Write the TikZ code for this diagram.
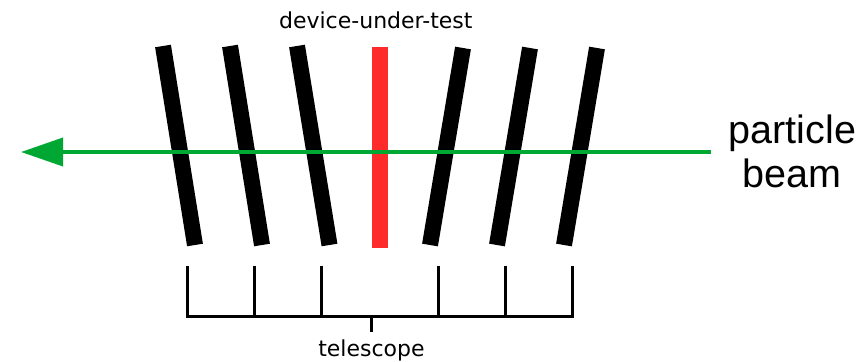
\documentclass[tikz,border=0pt]{standalone}
\usepackage{fontspec}
\setmainfont{DejaVu Sans}
\newfontfamily\pbfamily{Liberation Sans}
\usetikzlibrary{arrows.meta}
\definecolor{beamgreen}{RGB}{0,168,51}
\definecolor{dutred}{RGB}{255,42,42}
\tikzset{
  plate/.style={line width=16pt, line cap=butt, black},
  dutplate/.style={line width=16.5pt, line cap=butt, dutred},
  beam/.style={line width=3.7pt, beamgreen, -{Triangle[length=42pt,width=28pt]}},
  bracket/.style={line width=3pt, black, line join=miter},
  smalllabel/.style={font=\fontsize{22}{26}\selectfont, inner sep=0pt, anchor=base},
  biglabel/.style={font=\pbfamily\fontsize{39.5}{44}\selectfont, inner sep=0pt, anchor=base}
}
\begin{document}
\begin{tikzpicture}[x=1pt,y=-1pt]
\useasboundingbox (0,0) rectangle (861,361);
% telescope planes
\foreach \t/\b [count=\i] in {163/195,230/262,297/329.5}{
  \coordinate (lt\i) at (\t,46);
  \coordinate (lb\i) at (\b,245);
  \draw[plate] (lt\i) -- (lb\i);
}
\foreach \t/\b [count=\i] in {463/430,530/497,597/564}{
  \coordinate (rt\i) at (\t,48);
  \coordinate (rb\i) at (\b,245);
  \draw[plate] (rt\i) -- (rb\i);
}
% device under test
\coordinate (dt) at (380,47);
\coordinate (db) at (380,248);
\draw[dutplate] (dt) -- (db);
% beam
\coordinate (bs) at (711,152);
\coordinate (be) at (21,152);
\draw[beam] (bs) -- (be);
% labels
\node[smalllabel] (dut) at (375.8,29) {device-under-test};
\node[biglabel] (pb1) at (792.5,143.3) {particle};
\node[biglabel] (pb2) at (792,187.7) {beam};
\node[smalllabel] (tel) at (371.5,356) {telescope};
% bracket
\coordinate (k1) at (187.5,265.5);
\coordinate (k6) at (572.3,265.5);
\draw[bracket] (k1) -- (187.5,316) -- (572.3,316) -- (k6);
\foreach \x in {254.3,321.7,438.3,505}{
  \draw[bracket] (\x,265.5) -- (\x,316);
}
\coordinate (kc) at (371,316);
\draw[bracket] (kc) -- (371,331.5);
\end{tikzpicture}
\end{document}
